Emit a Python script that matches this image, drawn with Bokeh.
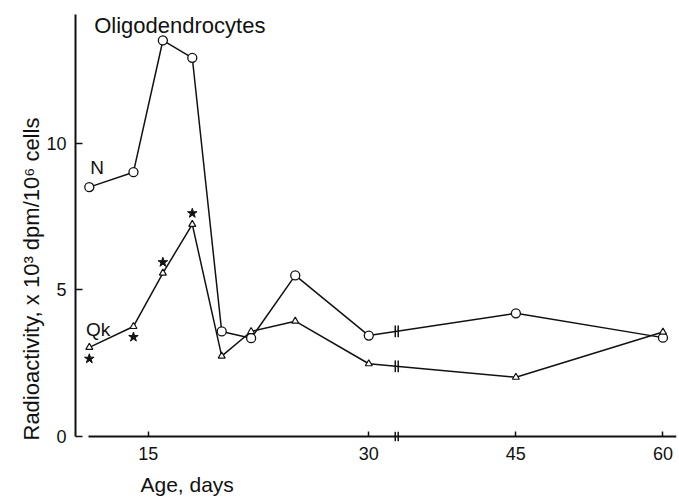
import numpy as np
from bokeh.plotting import figure
from bokeh.models import FixedTicker, Label, Arrow, ColumnDataSource, Range1d, Title
from bokeh.embed import file_html
from bokeh.resources import INLINE

# ---- data ----
days = [11, 14, 16, 18, 20, 22, 25, 30, 45, 60]
n_values = [8.50, 9.01, 13.50, 12.91, 3.58, 3.35, 5.49, 3.44, 4.20, 3.37]
qk_values = [3.04, 3.75, 5.57, 7.23, 2.74, 3.58, 3.93, 2.48, 2.02, 3.56]
star_days = [11, 14, 16, 18]
star_values = [2.65, 3.39, 5.94, 7.61]
tick_days = [15, 30, 45, 60]
y_ticks = [0, 5, 10]
tick_labels = ["15", "30", "45", "60"]


def to_axis(d):
    """Broken axis: full scale up to day 30, 2/3 scale after the break."""
    d = np.asarray(d, dtype=float)
    return np.where(d <= 30, d, 30 + (d - 30) * 2.0 / 3.0)


FONT = "Liberation Sans"
INK = "#111111"
BREAK_U = 31.9

p = figure(width=679, height=497, output_backend="svg", toolbar_location=None,
           x_range=Range1d(10.06, 50.92), y_range=Range1d(-2.08, 14.59),
           min_border_left=75, min_border_right=3, min_border_top=8, min_border_bottom=0)
p.grid.visible = False
p.outline_line_color = None
p.background_fill_color = "white"
p.border_fill_color = "white"

xt = [float(v) for v in to_axis(tick_days)]
p.xaxis.ticker = FixedTicker(ticks=xt)
p.xaxis.major_label_overrides = {u: lab for u, lab in zip(xt, tick_labels)}
p.xaxis.bounds = (10.92, 50.92)
p.xaxis.fixed_location = 0
p.yaxis.ticker = FixedTicker(ticks=y_ticks)
p.yaxis.bounds = (0, 14.4)
for ax in (p.xaxis[0], p.yaxis[0]):
    ax.axis_line_width = 2
    ax.axis_line_color = INK
    ax.major_tick_line_color = INK
    ax.major_tick_line_width = 1.5
    ax.major_tick_in = 5
    ax.major_tick_out = 0
    ax.minor_tick_line_color = None
    ax.major_label_text_font = FONT
    ax.major_label_text_font_size = "18px"
    ax.major_label_text_color = INK
p.xaxis.major_label_standoff = 11
p.yaxis.major_label_standoff = 9
p.yaxis.major_tick_in = 7

xu = to_axis(days)
src = ColumnDataSource(dict(x=xu, n=n_values, qk=qk_values))
p.line("x", "n", source=src, line_color=INK, line_width=1.5)
p.line("x", "qk", source=src, line_color=INK, line_width=1.5)
p.scatter("x", "n", source=src, marker="circle", size=9, fill_color="white",
          line_color=INK, line_width=1.3)
p.scatter("x", "qk", source=src, marker="triangle", size=7, fill_color="white",
          line_color=INK, line_width=1.2)
p.scatter(to_axis(star_days), star_values, marker="star", size=10,
          fill_color=INK, line_color=INK)

# axis-break marks "||"
yb_n = float(np.interp(BREAK_U, xu, n_values))
yb_q = float(np.interp(BREAK_U, xu, qk_values))
for xb in (BREAK_U - 0.1, BREAK_U + 0.1):
    for yc, h in ((yb_n, 0.2), (yb_q, 0.2), (0.0, 0.16)):
        p.add_layout(Arrow(end=None, start=None, x_start=xb, y_start=yc - h,
                           x_end=xb, y_end=yc + h, line_color=INK, line_width=1.5))

p.add_layout(Label(x=11.33, y=14.0, text="Oligodendrocytes", text_font=FONT,
                   text_font_size="22px", text_color=INK, text_baseline="alphabetic"))
p.add_layout(Label(x=11.53, y=9.17, text="N", text_font=FONT, text_font_size="19px",
                   text_color=INK, text_align="center", text_baseline="middle"))
p.add_layout(Label(x=11.6, y=3.65, text="Qk", text_font=FONT, text_font_size="19px",
                   text_color=INK, text_align="center", text_baseline="middle"))
p.add_layout(Label(x=17.65, y=-1.64, text="Age, days", text_font=FONT,
                   text_font_size="21px", text_color=INK, text_align="center",
                   text_baseline="middle"))

p.add_layout(Title(text="Radioactivity, x 10\u00b3 dpm/10\u2076 cells", align="left",
                   offset=57, text_font=FONT, text_font_size="22px",
                   text_font_style="normal", text_color=INK, standoff=0), "left")

open("out.html", "w").write(file_html(p, INLINE))
